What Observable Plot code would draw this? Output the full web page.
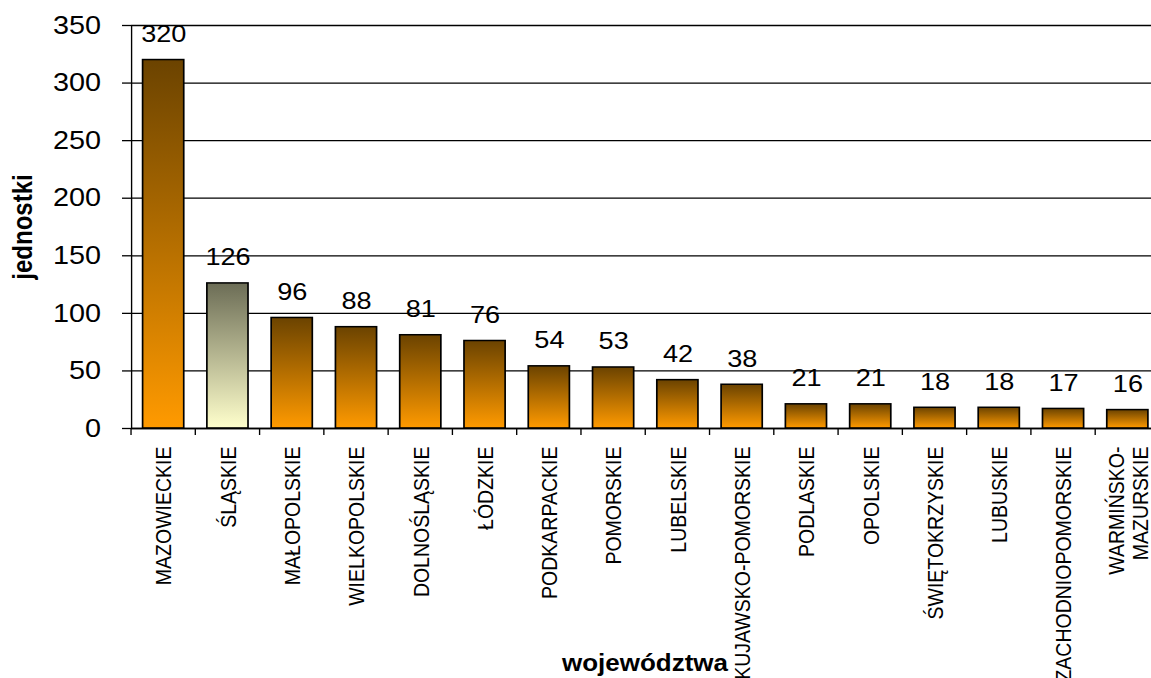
<!DOCTYPE html>
<html><head><meta charset="utf-8">
<script src="https://cdn.jsdelivr.net/npm/d3@7"></script>
<script src="https://cdn.jsdelivr.net/npm/@observablehq/plot@0.6"></script>
<style>body{margin:0;background:#fff;} svg{display:block}</style>
</head><body><div id="chart"></div>
<script>
const regions = ["MAZOWIECKIE","ŚLĄSKIE","MAŁOPOLSKIE","WIELKOPOLSKIE","DOLNOŚLĄSKIE","ŁÓDZKIE","PODKARPACKIE","POMORSKIE","LUBELSKIE","KUJAWSKO-POMORSKIE","PODLASKIE","OPOLSKIE","ŚWIĘTOKRZYSKIE","LUBUSKIE","ZACHODNIOPOMORSKIE","WARMIŃSKO-\nMAZURSKIE"];
const counts = [320,126,96,88,81,76,54,53,42,38,21,21,18,18,17,16];
const highlighted = ["ŚLĄSKIE"];
const yTicks = [0,50,100,150,200,250,300,350];
const yTitle = "jednostki";
const xTitle = "województwa";
const brownStops = ["#6b4300", "#ff9a00"];
const grayStops = ["#6c6d56", "#ffffcc"];

const data = regions.map((r, i) => ({region: r, value: counts[i]}));
const font = "'Liberation Sans', Arial, sans-serif";

// the reference is drawn with a horizontal stretch; draw in a narrower space and stretch it
const stretch = 1.13;
const outW = 1151, outH = 678;
const W = Math.round(outW / stretch);

const plot = Plot.plot({
  width: W, height: outH,
  marginLeft: 116, marginTop: 25, marginBottom: 250, marginRight: 0,
  style: {fontFamily: font, background: "#fff", color: "#000"},
  x: {domain: regions, range: [116, 1026.5], paddingInner: 0.36, paddingOuter: 0.18, align: 0.5, round: false},
  y: {domain: [0, 350]},
  marks: [
    Plot.ruleY(yTicks, {stroke: "#000", strokeWidth: 1.3}),
    Plot.barY(data.filter(d => !highlighted.includes(d.region)), {x: "region", y: "value", fill: "url(#gradBrown)", stroke: "#000", strokeWidth: 1.5}),
    Plot.barY(data.filter(d => highlighted.includes(d.region)), {x: "region", y: "value", fill: "url(#gradGray)", stroke: "#000", strokeWidth: 1.5}),
    Plot.text(data, {x: "region", y: "value", text: d => String(d.value), dy: -18, lineAnchor: "bottom", fontSize: 24, fill: "#000"}),
    Plot.frame({anchor: "left", stroke: "#000", strokeWidth: 1.2}),
    Plot.ruleY([0], {stroke: "#000", strokeWidth: 1.6}),
    Plot.axisY({ticks: yTicks, tickSize: 8, tickPadding: 19, fontSize: 25.5, label: null, tickFormat: d => String(d), stroke: "#000", strokeWidth: 1.3}),
    Plot.axisX({tickSize: 0, tickPadding: 18, tickRotate: -90, fontSize: 19.5, label: null, lineHeight: 1.1}),
    Plot.text([yTitle], {frameAnchor: "left", dx: -88, rotate: -90, textAnchor: "middle", lineAnchor: "bottom", fontWeight: "bold", fontSize: 24}),
    Plot.text([xTitle], {frameAnchor: "bottom", dx: 3, dy: 242, textAnchor: "middle", lineAnchor: "bottom", fontWeight: "bold", fontSize: 23})
  ]
});

document.getElementById("chart").appendChild(plot);

// stretch horizontally to the output size
plot.setAttribute("width", outW);
plot.setAttribute("height", outH);
plot.setAttribute("preserveAspectRatio", "none");
plot.style.width = outW + "px";
plot.style.height = outH + "px";
plot.style.maxWidth = "none";

// gradients
const svg = d3.select(plot);
const defs = svg.insert("defs", ":first-child");
function grad(id, stops) {
  const g = defs.append("linearGradient").attr("id", id).attr("x1", 0).attr("y1", 0).attr("x2", 0).attr("y2", 1);
  g.append("stop").attr("offset", "0%").attr("stop-color", stops[0]);
  g.append("stop").attr("offset", "100%").attr("stop-color", stops[1]);
}
grad("gradBrown", brownStops);
grad("gradGray", grayStops);

// boundary ticks on the band axis
const sx = plot.scale("x");
const sy = plot.scale("y");
const y0 = sy.apply(0);
const bounds = regions.map(r => sx.apply(r) + sx.bandwidth / 2 - sx.step / 2);
bounds.push(bounds[bounds.length - 1] + sx.step);
svg.append("g").selectAll("line").data(bounds).join("line")
  .attr("x1", d => d).attr("x2", d => d)
  .attr("y1", y0).attr("y2", y0 + 7)
  .attr("stroke", "#000").attr("stroke-width", 1.2);
</script>
</body></html>
